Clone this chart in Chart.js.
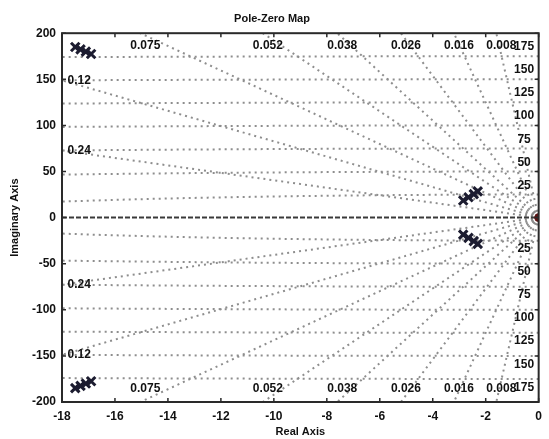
<!DOCTYPE html>
<html>
<head>
<meta charset="utf-8">
<script src="https://cdn.jsdelivr.net/npm/chart.js@4/dist/chart.umd.min.js"></script>
<style>
  html, body { margin: 0; padding: 0; background: #fff; }
  #wrap { width: 549px; height: 439px; }
</style>
</head>
<body>
<div id="wrap"><canvas id="pzplot" width="549" height="439"></canvas></div>
<script>
// axis ticks
const xTicks = [-18, -16, -14, -12, -10, -8, -6, -4, -2, 0];
const yTicks = [-200, -150, -100, -50, 0, 50, 100, 150, 200];

// grid: natural frequencies and damping ratios
const wnValues = [25, 50, 75, 100, 125, 150, 175];
const zetaValues = [0.008, 0.016, 0.026, 0.038, 0.052, 0.075, 0.12, 0.24];

// poles (upper half plane, conjugates are mirrored)
const poleRe = [-17.5, -17.3, -17.1, -16.9, -2.85, -2.65, -2.45, -2.3];
const poleIm = [185, 182.5, 180, 177.5, 18.5, 22, 25.5, 28.5];
const originRe = [0];
const originIm = [0];

const gridColor = '#8e8e8e';
const font = 'Liberation Sans, Arial, sans-serif';

let datasets = [];

// frequency circles
wnValues.forEach(wn => {
  [1, -1].forEach(sgn => {
    let pts = [];
    for (let i = 0; i <= 90; i++) {
      let a = Math.PI / 2 + (Math.PI / 2) * i / 90;
      pts.push({ x: wn * Math.cos(a), y: sgn * wn * Math.sin(a) });
    }
    datasets.push({
      data: pts, showLine: true, pointRadius: 0, borderColor: gridColor,
      borderWidth: 2, borderDash: [2, 4], clip: 0, order: 5
    });
  });
});

// damping rays
zetaValues.forEach(z => {
  [1, -1].forEach(sgn => {
    datasets.push({
      data: [{ x: 0, y: 0 }, { x: -300 * z, y: sgn * 300 * Math.sqrt(1 - z * z) }],
      showLine: true, pointRadius: 0, borderColor: gridColor,
      borderWidth: 2, borderDash: [2, 4], clip: 0, order: 5
    });
  });
});

// real axis
datasets.push({
  data: [{ x: -18, y: 0 }, { x: 0, y: 0 }], showLine: true, pointRadius: 0,
  borderColor: '#3a3a3a', borderWidth: 2, borderDash: [5, 2], clip: 0, order: 4
});

// poles
let poles = [];
for (let i = 0; i < poleRe.length; i++) {
  poles.push({ x: poleRe[i], y: poleIm[i] });
  poles.push({ x: poleRe[i], y: -poleIm[i] });
}
datasets.push({
  data: poles, showLine: false, pointStyle: 'crossRot', pointRadius: 6,
  borderColor: '#1c1c30', borderWidth: 3, order: 1
});
datasets.push({
  data: originRe.map((r, i) => ({ x: r, y: originIm[i] })), showLine: false,
  pointStyle: 'circle', pointRadius: 4, backgroundColor: '#5c1414',
  borderColor: '#5c1414', clip: 0, order: 1
});

const gridLabels = {
  id: 'gridLabels',
  afterDatasetsDraw(chart) {
    const ctx = chart.ctx;
    const xs = chart.scales.x, ys = chart.scales.y;
    const area = chart.chartArea;
    ctx.save();
    ctx.fillStyle = '#111';
    ctx.font = 'bold 12px ' + font;
    ctx.textAlign = 'center';
    ctx.textBaseline = 'middle';
    // damping labels
    zetaValues.forEach(z => {
      const s = Math.sqrt(1 - z * z) / z;
      const xTop = -200 / s;
      const txt = String(z);
      if (xTop >= -18) {
        ctx.fillText(txt, xs.getPixelForValue(xTop) + 5, ys.getPixelForValue(186));
        ctx.fillText(txt, xs.getPixelForValue(xTop) + 5, ys.getPixelForValue(-186));
      } else {
        const yLeft = 18 * s;
        ctx.fillText(txt, xs.getPixelForValue(-17.35), ys.getPixelForValue(yLeft));
        ctx.fillText(txt, xs.getPixelForValue(-17.35), ys.getPixelForValue(-yLeft));
      }
    });
    // frequency labels
    wnValues.forEach(wn => {
      ctx.fillText(String(wn), xs.getPixelForValue(-0.55), ys.getPixelForValue(wn + 10));
      ctx.fillText(String(wn), xs.getPixelForValue(-0.55), ys.getPixelForValue(-wn - 9));
    });
    // box and inward ticks
    ctx.strokeStyle = '#2a2a2a';
    ctx.lineWidth = 2;
    ctx.strokeRect(area.left, area.top, area.right - area.left, area.bottom - area.top);
    ctx.lineWidth = 1.5;
    xTicks.forEach(v => {
      const px = xs.getPixelForValue(v);
      ctx.beginPath();
      ctx.moveTo(px, area.bottom); ctx.lineTo(px, area.bottom - 4);
      ctx.moveTo(px, area.top); ctx.lineTo(px, area.top + 4);
      ctx.stroke();
    });
    yTicks.forEach(v => {
      const py = ys.getPixelForValue(v);
      ctx.beginPath();
      ctx.moveTo(area.left, py); ctx.lineTo(area.left + 4, py);
      ctx.moveTo(area.right, py); ctx.lineTo(area.right - 4, py);
      ctx.stroke();
    });
    ctx.restore();
  }
};

const config = {
  type: 'scatter',
  data: { datasets: datasets },
  options: {
    responsive: false,
    animation: false,
    layout: { padding: { right: 5, left: 0, top: 0, bottom: 0 } },
    plugins: {
      legend: { display: false },
      tooltip: { enabled: false },
      title: {
        display: true, text: 'Pole-Zero Map', color: '#111',
        font: { family: font, size: 11, weight: 'bold' },
        padding: { top: 12, bottom: 8 }
      }
    },
    scales: {
      x: {
        type: 'linear', min: -18, max: 0,
        afterBuildTicks: s => { s.ticks = xTicks.map(v => ({ value: v })); },
        afterFit: s => { s.height = 37; },
        grid: { display: false, drawTicks: false },
        border: { display: false },
        ticks: { color: '#111', padding: 7, font: { family: font, size: 12, weight: 'bold' } },
        title: {
          display: true, text: 'Real Axis', color: '#111',
          font: { family: font, size: 11, weight: 'bold' }, padding: { top: 0, bottom: 0 }
        }
      },
      y: {
        type: 'linear', min: -200, max: 200,
        afterBuildTicks: s => { s.ticks = yTicks.map(v => ({ value: v })); },
        afterFit: s => { s.width = 62; },
        grid: { display: false, drawTicks: false },
        border: { display: false },
        ticks: { color: '#111', padding: 6, font: { family: font, size: 12, weight: 'bold' } },
        title: {
          display: true, text: 'Imaginary Axis', color: '#111',
          font: { family: font, size: 11, weight: 'bold' }, padding: { top: 8, bottom: 0 }
        }
      }
    }
  },
  plugins: [gridLabels]
};

const myChart = new Chart(document.getElementById('pzplot'), config);
</script>
</body>
</html>
